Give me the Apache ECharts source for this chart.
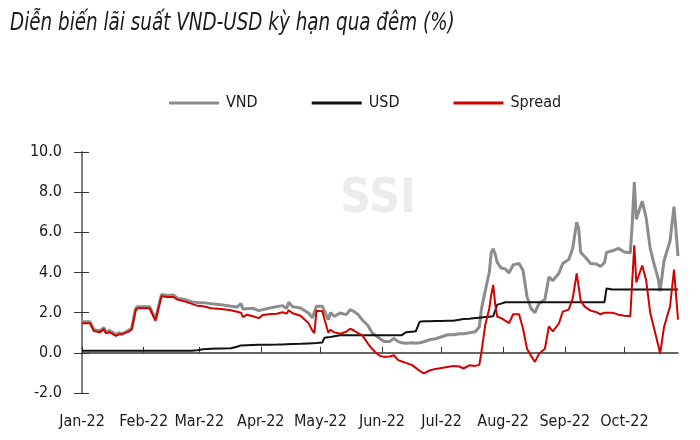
<!DOCTYPE html>
<html>
<head>
<meta charset="utf-8">
<script src="https://cdn.jsdelivr.net/npm/echarts@6/dist/echarts.min.js"></script>
<style>
html,body{margin:0;padding:0;background:#fff;}
#chart{width:700px;height:440px;}
</style>
</head>
<body>
<div id="chart"></div>
<script>
// ---- data ----
const title = 'Diễn biến lãi suất VND-USD kỳ hạn qua đêm (%)';
const seriesNames = ['VND', 'USD', 'Spread'];
const monthLabels = ['Jan-22','Feb-22','Mar-22','Apr-22','May-22','Jun-22','Jul-22','Aug-22','Sep-22','Oct-22'];
const monthStarts = ['2022-01-01','2022-02-01','2022-03-01','2022-04-01','2022-05-01','2022-06-01','2022-07-01','2022-08-01','2022-09-01','2022-10-01'];
const yTicks = [-2, 0, 2, 4, 6, 8, 10];

const dates = [
  '2022-01-01','2022-01-05','2022-01-07','2022-01-10','2022-01-12','2022-01-13','2022-01-15','2022-01-18','2022-01-20','2022-01-21','2022-01-24','2022-01-26','2022-01-28','2022-01-29',
  '2022-02-04','2022-02-07','2022-02-10','2022-02-13','2022-02-16','2022-02-18','2022-02-22','2022-02-25','2022-02-28',
  '2022-03-03','2022-03-07','2022-03-12','2022-03-17','2022-03-20','2022-03-22','2022-03-23','2022-03-25','2022-03-28','2022-03-31',
  '2022-04-02','2022-04-05','2022-04-09','2022-04-12','2022-04-14','2022-04-15','2022-04-17','2022-04-21','2022-04-25','2022-04-27','2022-04-28','2022-04-29',
  '2022-05-02','2022-05-03','2022-05-05','2022-05-06','2022-05-08','2022-05-11','2022-05-14','2022-05-16','2022-05-18','2022-05-20','2022-05-22','2022-05-25','2022-05-27','2022-05-29','2022-05-31',
  '2022-06-02','2022-06-05','2022-06-07','2022-06-09','2022-06-11','2022-06-13','2022-06-16','2022-06-18','2022-06-20','2022-06-22','2022-06-25','2022-06-28',
  '2022-07-01','2022-07-04','2022-07-07','2022-07-10','2022-07-12','2022-07-15','2022-07-18','2022-07-20','2022-07-21','2022-07-23','2022-07-25','2022-07-26','2022-07-27','2022-07-28','2022-07-29','2022-07-31',
  '2022-08-02','2022-08-04','2022-08-06','2022-08-09','2022-08-11','2022-08-13','2022-08-15','2022-08-17','2022-08-19','2022-08-22','2022-08-24','2022-08-26','2022-08-29','2022-08-31',
  '2022-09-03','2022-09-05','2022-09-07','2022-09-08','2022-09-09','2022-09-11','2022-09-14','2022-09-17','2022-09-19','2022-09-21','2022-09-22','2022-09-25','2022-09-28',
  '2022-10-01','2022-10-04','2022-10-05','2022-10-06','2022-10-07','2022-10-10','2022-10-12','2022-10-14','2022-10-16','2022-10-18','2022-10-19','2022-10-21','2022-10-24','2022-10-26','2022-10-27','2022-10-28'
];

const vnd = [
  1.55,1.55,1.15,1.10,1.25,1.05,1.10,0.92,1.00,0.90,1.10,1.22,2.20,2.30,
  2.30,1.68,2.90,2.85,2.88,2.72,2.65,2.55,2.50,
  2.50,2.45,2.40,2.32,2.28,2.45,2.18,2.20,2.22,2.10,
  2.15,2.22,2.30,2.35,2.20,2.52,2.30,2.23,1.98,1.75,1.70,2.32,
  2.32,2.30,1.65,2.00,1.82,1.98,1.90,2.15,2.05,1.90,1.65,1.35,1.00,0.85,0.70,
  0.57,0.57,0.72,0.57,0.50,0.48,0.50,0.48,0.50,0.55,0.65,0.70,
  0.80,0.90,0.90,0.95,0.95,1.00,1.05,1.30,2.15,3.10,4.00,5.00,5.18,4.90,4.50,4.22,
  4.18,3.98,4.38,4.45,4.10,2.80,2.20,2.00,2.45,2.65,3.78,3.60,3.95,4.45,
  4.65,5.20,6.50,6.20,5.00,4.80,4.45,4.42,4.30,4.50,5.00,5.08,5.20,
  5.02,4.98,6.50,8.50,6.65,7.55,6.70,5.20,4.40,3.70,3.07,4.60,5.57,7.28,7.20,4.82
];

const usd = [
  0.10,0.10,0.10,0.10,0.10,0.10,0.10,0.10,0.10,0.10,0.10,0.10,0.10,0.10,
  0.10,0.10,0.10,0.10,0.10,0.10,0.10,0.10,0.13,
  0.18,0.20,0.22,0.23,0.30,0.37,0.38,0.38,0.39,0.40,
  0.40,0.40,0.41,0.42,0.43,0.43,0.44,0.45,0.47,0.48,0.48,0.49,
  0.52,0.75,0.77,0.80,0.83,0.87,0.87,0.87,0.87,0.87,0.87,0.87,0.87,0.87,0.87,
  0.87,0.87,0.87,0.87,0.88,1.02,1.05,1.07,1.55,1.57,1.57,1.58,
  1.58,1.60,1.60,1.65,1.68,1.70,1.73,1.75,1.77,1.78,1.80,1.80,1.82,1.85,2.40,2.45,
  2.52,2.52,2.52,2.52,2.52,2.52,2.52,2.52,2.52,2.52,2.52,2.52,2.52,2.52,
  2.52,2.52,2.52,2.52,2.52,2.52,2.52,2.52,2.52,2.52,3.20,3.15,3.15,
  3.15,3.15,3.15,3.15,3.15,3.15,3.15,3.15,3.15,3.15,3.15,3.15,3.15,3.15,3.15,3.15
];

const spread = [
  1.47,1.47,1.08,1.02,1.18,0.98,1.02,0.85,0.92,0.85,1.03,1.15,2.12,2.22,
  2.22,1.60,2.82,2.78,2.78,2.65,2.55,2.45,2.35,
  2.32,2.22,2.18,2.12,2.05,2.00,1.78,1.90,1.82,1.73,
  1.88,1.92,1.95,2.02,1.95,2.12,1.97,1.85,1.48,1.10,0.98,2.10,
  2.07,1.70,1.00,1.15,1.02,0.95,1.05,1.20,1.10,0.98,0.88,0.45,0.20,0.00,-0.15,
  -0.20,-0.18,-0.12,-0.35,-0.43,-0.50,-0.60,-0.75,-0.90,-1.02,-0.88,-0.80,
  -0.75,-0.70,-0.65,-0.68,-0.78,-0.62,-0.65,-0.60,0.00,1.40,2.20,2.90,3.38,2.40,1.80,1.73,
  1.60,1.48,1.92,1.92,1.20,0.20,-0.15,-0.45,-0.05,0.20,1.32,1.07,1.45,2.05,
  2.15,2.70,3.95,3.30,2.60,2.30,2.10,2.02,1.92,2.00,2.05,2.00,1.90,
  1.85,1.82,3.65,5.35,3.50,4.35,3.60,2.00,1.20,0.40,-0.05,1.30,2.32,4.15,4.10,1.65
];

// ---- helpers ----
const DAY = 86400000;
const origin = Date.UTC(2022, 0, 1);
function dayOf(s) {
  const p = s.split('-').map(Number);
  return Math.round((Date.UTC(p[0], p[1] - 1, p[2]) - origin) / DAY);
}
const xs = dates.map(dayOf);
const monthDays = monthStarts.map(dayOf);
const pair = arr => arr.map((v, i) => [xs[i], v]);
const lastDay = xs[xs.length - 1];

const FONT = '"Liberation Sans Narrow", "Arial Narrow", "DejaVu Sans Condensed", sans-serif';
const colors = { VND: '#8c8c8c', USD: '#111111', Spread: '#d40000' };

const chart = echarts.init(document.getElementById('chart'), null, { renderer: 'canvas' });
chart.setOption({
  animation: false,
  backgroundColor: '#fff',
  graphic: [{
    type: 'text', x: 10, y: 12, scaleX: 0.85,
    style: { text: title, fontFamily: FONT, fontStyle: 'italic', fontSize: 24, fill: '#1a1a1a' }
  }, {
    type: 'text', x: 340, y: 176, z: -1,
    style: { text: 'SSI', fontFamily: FONT, fontWeight: 'bold', fontSize: 48, fill: '#ececec' }
  }],
  legend: {
    data: seriesNames.map(n => ({ name: n, icon: 'rect', itemStyle: { color: colors[n] } })),
    left: 164, top: 90,
    itemWidth: 50, itemHeight: 3, itemGap: 54,
    textStyle: { fontFamily: FONT, fontSize: 16, color: '#1a1a1a', padding: [0, 0, 0, 2] }
  },
  grid: { left: 82, right: 22, top: 152, bottom: 47, containLabel: false },
  xAxis: [{
    type: 'value', min: 0, max: lastDay,
    axisLine: { show: false },
    axisTick: { show: false },
    splitLine: { show: false },
    axisLabel: {
      customValues: monthDays,
      margin: 21,
      fontFamily: FONT, fontSize: 16, color: '#1a1a1a',
      formatter: v => monthLabels[monthDays.indexOf(v)] || ''
    }
  }, {
    type: 'value', min: 0, max: lastDay, position: 'bottom',
    axisLine: { show: true, onZero: true, lineStyle: { color: '#333', width: 1.5 } },
    axisTick: { show: true, inside: true, length: 6, customValues: monthDays, lineStyle: { color: '#333', width: 1 } },
    axisLabel: { show: false },
    splitLine: { show: false }
  }],
  yAxis: [{
    type: 'value', min: -2, max: 10, interval: 2,
    axisLine: { show: true, lineStyle: { color: '#808080', width: 2 } },
    axisTick: { show: true, length: 8, lineStyle: { color: '#333', width: 1 } },
    splitLine: { show: false },
    axisLabel: { margin: 20, fontFamily: FONT, fontSize: 16, color: '#1a1a1a', formatter: v => v.toFixed(1) }
  }, {
    type: 'value', min: -2, max: 10, interval: 2, position: 'left',
    axisLine: { show: false },
    axisTick: { show: true, inside: true, length: 7, lineStyle: { color: '#333', width: 1 } },
    axisLabel: { show: false },
    splitLine: { show: false }
  }],
  series: [
    { name: 'VND', type: 'line', data: pair(vnd), symbol: 'none', lineStyle: { color: colors.VND, width: 3 }, itemStyle: { color: colors.VND }, z: 2 },
    { name: 'USD', type: 'line', data: pair(usd), symbol: 'none', lineStyle: { color: colors.USD, width: 2 }, itemStyle: { color: colors.USD }, z: 3 },
    { name: 'Spread', type: 'line', data: pair(spread), symbol: 'none', lineStyle: { color: colors.Spread, width: 2 }, itemStyle: { color: colors.Spread }, z: 4 }
  ]
});
</script>
</body>
</html>
